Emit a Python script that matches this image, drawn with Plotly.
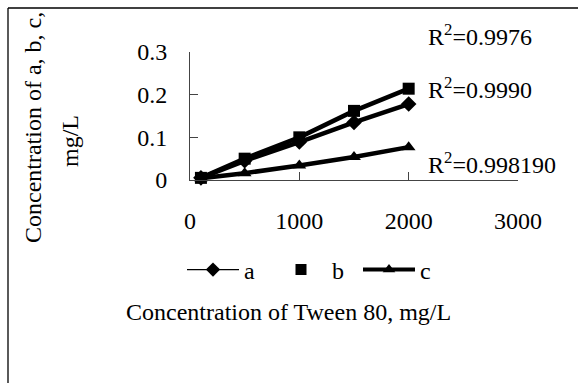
import plotly.graph_objects as go

# ---- data ----
tween = [100, 500, 1000, 1500, 2000]
a_vals = [0.005, 0.045, 0.089, 0.135, 0.178]
b_vals = [0.005, 0.050, 0.100, 0.162, 0.214]
c_vals = [0.004, 0.016, 0.034, 0.054, 0.077]
r2_labels = ["R<sup>2</sup>=0.9976", "R<sup>2</sup>=0.9990", "R<sup>2</sup>=0.998190"]
x_ticks = [0, 1000, 2000, 3000]
y_ticks = [0, 0.1, 0.2, 0.3]
y_tick_text = ["0", "0.1", "0.2", "0.3"]

W, H = 578, 383
L, R, T, B = 190, 518, 52, 180
FONT = "Liberation Serif, Times New Roman, serif"
FS = 24


def px(x):
    return (x - L) / (R - L)


def py(y):
    return (B - y) / (B - T)


fig = go.Figure()
series = [("a", a_vals, "diamond"), ("b", b_vals, "square"), ("c", c_vals, "triangle-up")]
for name, vals, sym in series:
    fig.add_trace(go.Scatter(
        x=tween, y=vals, mode="lines+markers", name=name, showlegend=False,
        line=dict(color="black", width=4.5),
        marker=dict(symbol=sym, size=12, color="black"),
        cliponaxis=False,
    ))

# legend entries
fig.add_trace(go.Scatter(x=[None], y=[None], mode="lines+markers", name="a",
                         line=dict(color="black", width=1.2),
                         marker=dict(symbol="diamond", size=11, color="black")))
fig.add_trace(go.Scatter(x=[None], y=[None], mode="markers", name="b",
                         marker=dict(symbol="square", size=11, color="black")))
fig.add_trace(go.Scatter(x=[None], y=[None], mode="lines+markers", name="c",
                         line=dict(color="black", width=4),
                         marker=dict(symbol="triangle-up", size=11, color="black")))

axis_common = dict(
    showgrid=False, zeroline=False, showline=True, linecolor="#444", linewidth=1,
    ticks="inside", ticklen=8, tickcolor="#444", tickwidth=1,
    tickfont=dict(family=FONT, size=FS, color="black"),
)
fig.update_xaxes(range=[0, 3000], tickvals=x_ticks, ticklabelstandoff=19, **axis_common)
fig.update_yaxes(range=[0, 0.3], tickvals=y_ticks, ticktext=y_tick_text,
                 ticklabelstandoff=17, **axis_common)

ann = []
for lab, ypix in zip(r2_labels, [35, 88, 163]):
    ann.append(dict(text=lab, xref="paper", yref="paper", x=px(426), y=py(ypix),
                    xanchor="left", yanchor="middle", showarrow=False,
                    font=dict(family=FONT, size=FS, color="black")))
ann.append(dict(text="Concentration of Tween 80, mg/L", xref="paper", yref="paper",
                x=px(288), y=py(312), xanchor="center", yanchor="middle", showarrow=False,
                font=dict(family=FONT, size=FS, color="black")))
ann.append(dict(text="Concentration of a, b, c,", xref="paper", yref="paper",
                x=px(33), y=py(128), xanchor="center", yanchor="middle", textangle=-90,
                showarrow=False, font=dict(family=FONT, size=FS, color="black")))
ann.append(dict(text="mg/L", xref="paper", yref="paper",
                x=px(70), y=py(141), xanchor="center", yanchor="middle", textangle=-90,
                showarrow=False, font=dict(family=FONT, size=FS, color="black")))

shapes = [
    dict(type="line", xref="paper", yref="paper", x0=px(8), x1=px(W), y0=py(8), y1=py(8),
         line=dict(color="black", width=1.3)),
    dict(type="line", xref="paper", yref="paper", x0=px(8), x1=px(8), y0=py(8), y1=py(H),
         line=dict(color="black", width=1.3)),
]

fig.update_layout(
    width=W, height=H,
    margin=dict(l=L, r=W - R, t=T, b=H - B),
    paper_bgcolor="white", plot_bgcolor="white",
    annotations=ann, shapes=shapes,
    showlegend=True,
    legend=dict(orientation="h", x=px(182), y=py(270), xanchor="left", yanchor="middle",
                font=dict(family=FONT, size=FS, color="black"),
                bgcolor="rgba(0,0,0,0)", itemwidth=52, entrywidth=21,
                tracegroupgap=0),
)

fig.write_html("out.html")
